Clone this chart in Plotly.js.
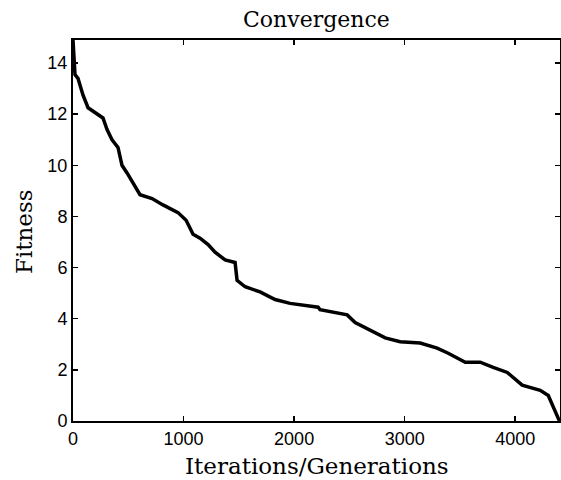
<!DOCTYPE html>
<html>
<head>
<meta charset="utf-8">
<script src="https://cdn.plot.ly/plotly-3.0.1.min.js"></script>
<style>html,body{margin:0;padding:0;background:#fff;}#chart{width:561px;height:480px;}</style>
</head>
<body>
<div id="chart"></div>
<script>
const iterations = [0, 9, 18, 45, 90, 136, 199, 271, 308, 353, 407, 443, 489, 543, 606, 715, 814, 950, 1023, 1086, 1149, 1222, 1285, 1376, 1466, 1484, 1557, 1692, 1828, 1964, 2217, 2235, 2480, 2552, 2688, 2824, 2959, 3140, 3294, 3394, 3548, 3683, 3801, 3928, 4063, 4226, 4299, 4344, 4389, 4400];
const fitness = [14.9, 14.1, 13.55, 13.4, 12.75, 12.25, 12.05, 11.85, 11.4, 11.0, 10.7, 10.0, 9.7, 9.3, 8.85, 8.7, 8.45, 8.15, 7.85, 7.3, 7.15, 6.9, 6.6, 6.3, 6.2, 5.5, 5.25, 5.05, 4.75, 4.6, 4.45, 4.35, 4.15, 3.85, 3.55, 3.25, 3.1, 3.05, 2.85, 2.65, 2.3, 2.3, 2.1, 1.9, 1.4, 1.2, 1.0, 0.55, 0.05, 0];
const xTicks = [0, 1000, 2000, 3000, 4000];
const yTicks = [0, 2, 4, 6, 8, 10, 12, 14];
const titleText = 'Convergence';
const xTitle = 'Iterations/Generations';
const yTitle = 'Fitness';

const serif = "'DejaVu Serif', serif";
const sans = "'Liberation Sans', Arial, sans-serif";

const axisCommon = {
  showgrid: false, zeroline: false, showline: true, linecolor: '#000', linewidth: 2,
  mirror: 'ticks', ticks: 'inside', ticklen: 5, tickwidth: 1.5, tickcolor: '#000',
  tickfont: {family: sans, size: 18, color: '#000'}
};

Plotly.newPlot('chart', [{
  x: iterations, y: fitness, type: 'scatter', mode: 'lines',
  line: {color: '#000', width: 3.5}
}], {
  width: 561, height: 480,
  margin: {l: 73, r: 1, t: 40, b: 59},
  paper_bgcolor: '#fff', plot_bgcolor: '#fff',
  showlegend: false,
  xaxis: Object.assign({}, axisCommon, {range: [0, 4405], tickvals: xTicks, ticktext: xTicks.map(String)}),
  yaxis: Object.assign({}, axisCommon, {range: [0, 14.9], tickvals: yTicks, ticktext: yTicks.map(String)}),
  annotations: [
    {text: titleText, xref: 'paper', yref: 'paper', x: 0.5, y: 1.055, xanchor: 'center', yanchor: 'middle', showarrow: false, font: {family: serif, size: 22, color: '#000'}},
    {text: xTitle, xref: 'paper', yref: 'paper', x: 0.5, y: -0.118, xanchor: 'center', yanchor: 'middle', showarrow: false, font: {family: serif, size: 23, color: '#000'}},
    {text: yTitle, xref: 'paper', yref: 'paper', x: -0.1006, y: 0.496, xanchor: 'center', yanchor: 'middle', textangle: -90, showarrow: false, font: {family: serif, size: 23, color: '#000'}}
  ]
}, {displayModeBar: false, staticPlot: true});
</script>
</body>
</html>
